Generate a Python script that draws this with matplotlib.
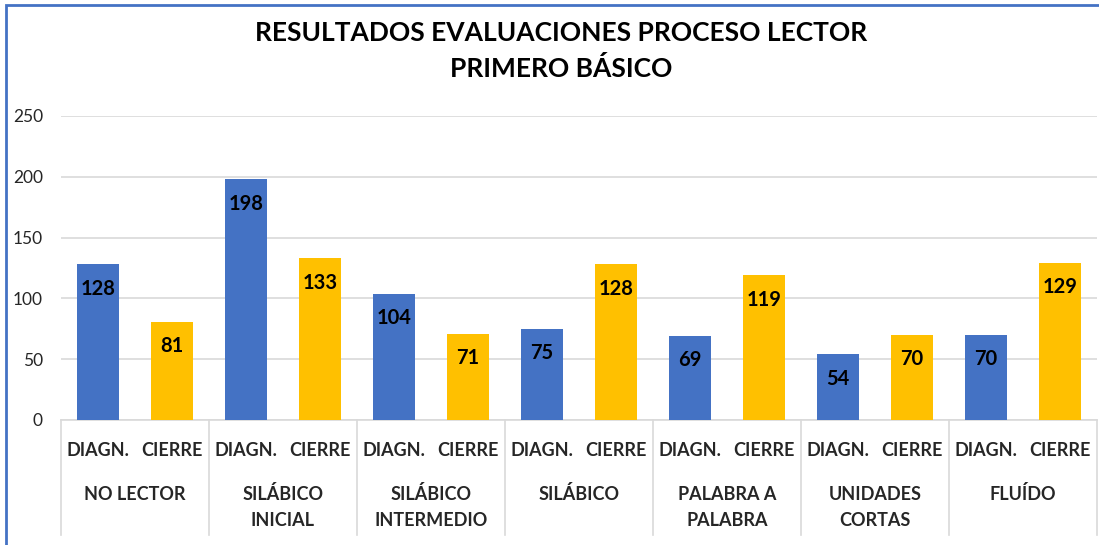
import matplotlib
matplotlib.use("Agg")
import matplotlib.pyplot as plt
from matplotlib.patches import Rectangle

groups = ["NO LECTOR", "SILÁBICO\nINICIAL", "SILÁBICO\nINTERMEDIO", "SILÁBICO",
          "PALABRA A\nPALABRA", "UNIDADES\nCORTAS", "FLUÍDO"]
series_names = ["DIAGN.", "CIERRE"]
diagn = [128, 198, 104, 75, 69, 54, 70]
cierre = [81, 133, 71, 128, 119, 70, 129]
title = "RESULTADOS EVALUACIONES PROCESO LECTOR\nPRIMERO BÁSICO"
yticks = [0, 50, 100, 150, 200, 250]

BLUE = "#4472C4"
GOLD = "#FFC000"
FONT = "Lato"

W, H = 1099, 545
fig = plt.figure(figsize=(W / 100, H / 100), dpi=100)
ax = fig.add_axes([61 / W, (H - 420) / H, (1097 - 61) / W, (420 - 116) / H])

n = len(groups)
xd = [2 * i for i in range(n)]
xc = [2 * i + 1 for i in range(n)]
bw = 0.57
bars_d = ax.bar(xd, diagn, width=bw, color=BLUE, zorder=3)
bars_c = ax.bar(xc, cierre, width=bw, color=GOLD, zorder=3)

for bars, vals in ((bars_d, diagn), (bars_c, cierre)):
    for b, v in zip(bars, vals):
        ax.annotate(str(v), (b.get_x() + b.get_width() / 2, v),
                    xytext=(0, -17.5), textcoords="offset points",
                    ha="center", va="center", fontsize=14.5, fontweight="bold",
                    family=FONT, color="black", zorder=4)

ax.set_xlim(-0.5, 2 * n - 0.5)
ax.set_ylim(0, 250)
ax.set_yticks(yticks)
ax.set_yticklabels([str(t) for t in yticks], family=FONT, fontsize=12.5, color="#262626")
ax.tick_params(axis="y", length=0, pad=13)
ax.set_xticks([])
ax.yaxis.grid(True, color="#D9D9D9", linewidth=1.2, zorder=0)
for s in ["top", "right", "left"]:
    ax.spines[s].set_visible(False)
ax.spines["bottom"].set_color("#D9D9D9")
ax.spines["bottom"].set_linewidth(1.2)

trans = ax.get_xaxis_transform()
axh = 420 - 116

def yfrac(py):
    return (420 - py) / axh

for i in range(n):
    ax.text(xd[i], yfrac(451), series_names[0], transform=trans, ha="center", va="center",
            fontsize=13, fontweight="bold", family=FONT, color="#262626")
    ax.text(xc[i], yfrac(451), series_names[1], transform=trans, ha="center", va="center",
            fontsize=13, fontweight="bold", family=FONT, color="#262626")
    for k, line in enumerate(groups[i].split("\n")):
        ax.text(2 * i + 0.5, yfrac(494 + 27 * k), line, transform=trans, ha="center",
                va="center", fontsize=13, fontweight="bold", family=FONT, color="#262626")

for j in range(n + 1):
    ax.plot([2 * j - 0.5, 2 * j - 0.5], [0, yfrac(535)], transform=trans,
            color="#D9D9D9", linewidth=1.2, clip_on=False)

fig.text(561 / W, 1 - 51 / H, title, ha="center", va="center", fontsize=19,
         fontweight="bold", family=FONT, color="black", linespacing=1.5)

fig.patches.append(Rectangle((6 / W, -0.1), 1.2, 1 - 5 / H + 0.1, transform=fig.transFigure,
                             fill=False, edgecolor=BLUE, linewidth=2))

fig.savefig("out.png", dpi=100)
